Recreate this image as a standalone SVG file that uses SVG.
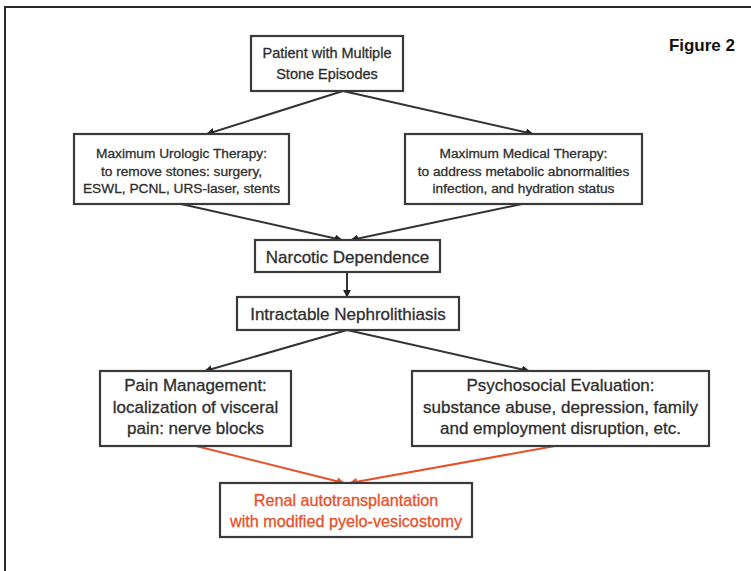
<svg xmlns="http://www.w3.org/2000/svg" width="751" height="571" viewBox="0 0 751 571">
<defs>
<style>
.box{fill:#fff;stroke:#3a3a3a;stroke-width:2.2}
.t{font-family:"Liberation Sans",Arial,sans-serif;fill:#2e2e2e;stroke:#2e2e2e;stroke-width:0.3;text-anchor:middle}
.s13{font-size:13.7px}
.s14{font-size:14.5px}
.s17{font-size:17px}
.s16{font-size:16.2px}
.red{fill:#e8502a;stroke:#e8502a}
.con{stroke:#333;stroke-width:2;fill:none}
.conr{stroke:#e8502a;stroke-width:2;fill:none}
</style>
<marker id="ah" viewBox="0 0 10 10" refX="9" refY="5" markerWidth="8" markerHeight="8" markerUnits="userSpaceOnUse" orient="auto"><path d="M0,0 L10,5 L0,10 z" fill="#222"/></marker>
<marker id="ahr" viewBox="0 0 10 10" refX="9" refY="5" markerWidth="8" markerHeight="8" markerUnits="userSpaceOnUse" orient="auto"><path d="M0,0 L10,5 L0,10 z" fill="#e8502a"/></marker>
</defs>
<rect width="751" height="571" fill="#fff"/>
<path d="M5,571 V7 H751" fill="none" stroke="#2a2a2a" stroke-width="2"/>
<text x="735" y="51" font-family="Liberation Sans,Arial,sans-serif" font-size="17" font-weight="bold" fill="#111" text-anchor="end">Figure 2</text>

<g id="connectors">
<path class="con" d="M343,91 L207,134" marker-end="url(#ah)"/>
<path class="con" d="M343,91 L533,134" marker-end="url(#ah)"/>
<path class="con" d="M181,204 L342,240" marker-end="url(#ah)"/>
<path class="con" d="M522,204 L351,240" marker-end="url(#ah)"/>
<path class="con" d="M347,272 L347,297" marker-end="url(#ah)"/>
<path class="con" d="M347,330 L205,371" marker-end="url(#ah)"/>
<path class="con" d="M347,330 L529,371" marker-end="url(#ah)"/>
<path class="conr" d="M196,446 L344,483" marker-end="url(#ahr)"/>
<path class="conr" d="M555,446 L350,483" marker-end="url(#ahr)"/>
</g>

<g id="patient">
<rect class="box" x="251" y="36" width="152" height="55"/>
<text class="t s14" x="327" y="58">Patient with Multiple</text>
<text class="t s14" x="327" y="79">Stone Episodes</text>
</g>
<g id="urologic">
<rect class="box" x="74" y="134" width="215" height="70"/>
<text class="t s13" x="181.5" y="158">Maximum Urologic Therapy:</text>
<text class="t s13" x="181.5" y="175.5">to remove stones: surgery,</text>
<text class="t s13" x="181.5" y="193">ESWL, PCNL, URS-laser, stents</text>
</g>
<g id="medical">
<rect class="box" x="405" y="134" width="237" height="70"/>
<text class="t s13" x="523.5" y="158">Maximum Medical Therapy:</text>
<text class="t s13" x="523.5" y="175.5">to address metabolic abnormalities</text>
<text class="t s13" x="523.5" y="193">infection, and hydration status</text>
</g>
<g id="narcotic">
<rect class="box" x="255" y="240" width="185" height="32"/>
<text class="t s17" x="347.5" y="262.5">Narcotic Dependence</text>
</g>
<g id="intractable">
<rect class="box" x="237" y="297" width="222" height="33"/>
<text class="t s17" x="348" y="320">Intractable Nephrolithiasis</text>
</g>
<g id="pain">
<rect class="box" x="100" y="371" width="191" height="75"/>
<text class="t s17" x="195.5" y="391">Pain Management:</text>
<text class="t s17" x="195.5" y="413">localization of visceral</text>
<text class="t s17" x="195.5" y="434">pain: nerve blocks</text>
</g>
<g id="psychosocial">
<rect class="box" x="412" y="371" width="297" height="75"/>
<text class="t s17" x="560.5" y="391">Psychosocial Evaluation:</text>
<text class="t s17" x="560.5" y="413">substance abuse, depression, family</text>
<text class="t s17" x="560.5" y="434">and employment disruption, etc.</text>
</g>
<g id="renal">
<rect class="box" x="220" y="483" width="252" height="54"/>
<text class="t s16 red" x="346" y="506">Renal autotransplantation</text>
<text class="t s16 red" x="346" y="527">with modified pyelo-vesicostomy</text>
</g>
</svg>
